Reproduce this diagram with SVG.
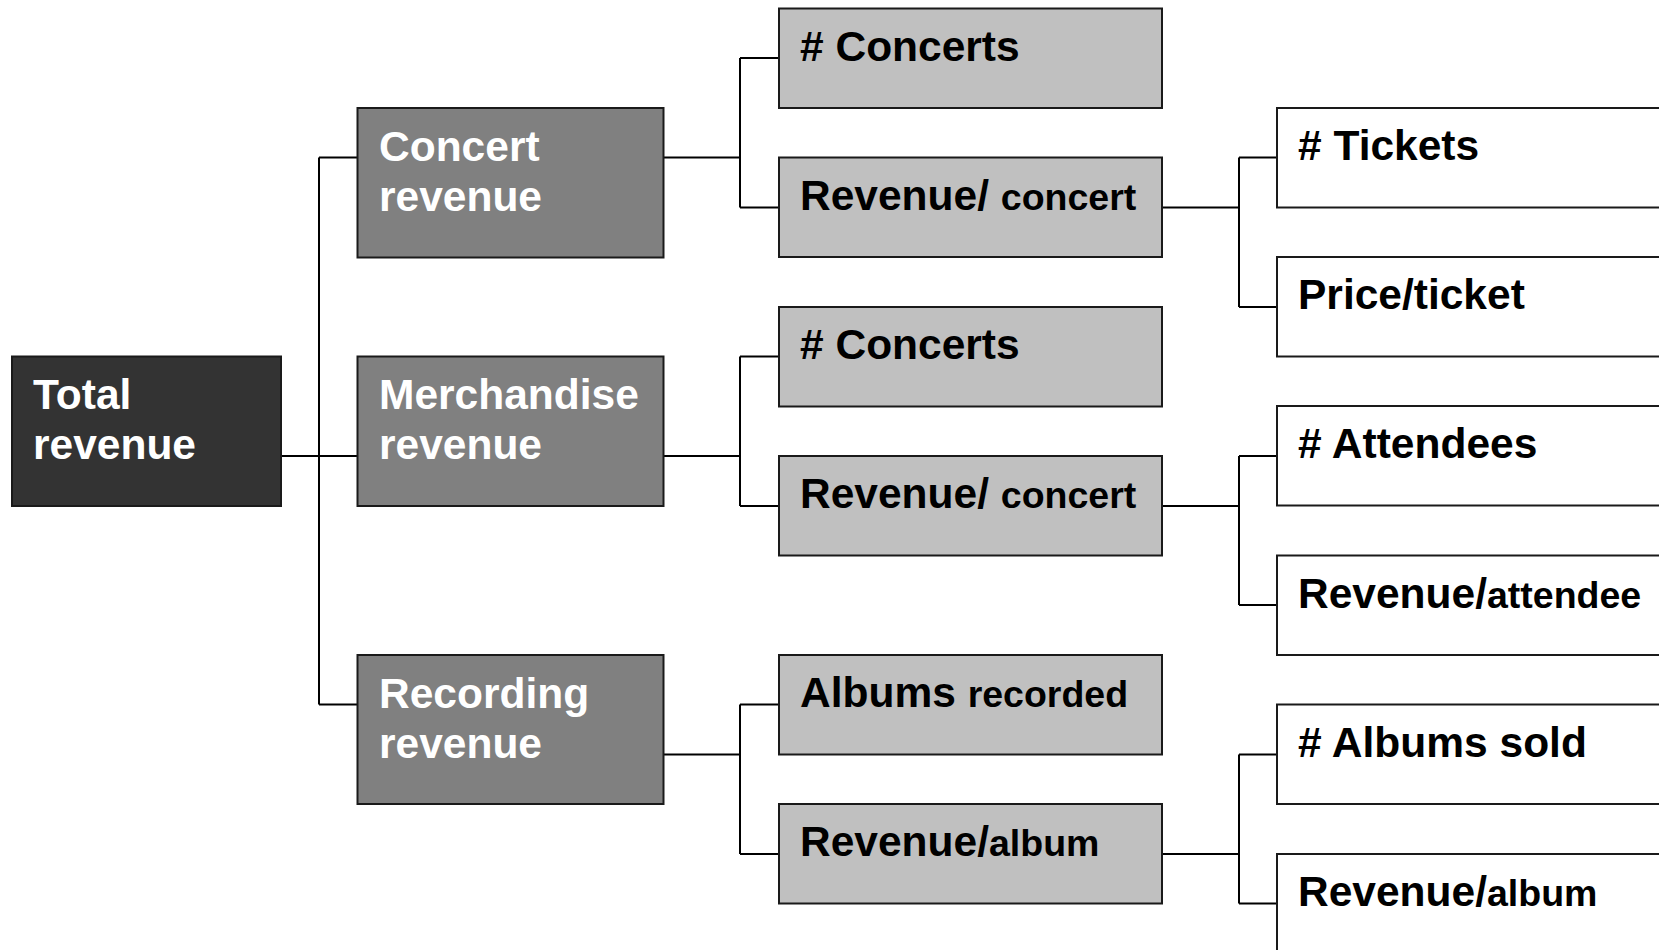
<svg xmlns="http://www.w3.org/2000/svg" width="1659" height="950" viewBox="0 0 1659 950">
<style>
  .box { stroke: #1a1a1a; stroke-width: 2; }
  .b0 { fill: #333333; }
  .b1 { fill: #808080; }
  .b2 { fill: #c0c0c0; }
  .b3 { fill: #ffffff; }
  text { font-family: "Liberation Sans", Arial, sans-serif; font-weight: bold; font-size: 42.5px; }
  .w { fill: #ffffff; }
  .k { fill: #000000; }
  .s { font-size: 37.5px; }
  .conn path { fill: none; stroke: #000000; stroke-width: 2; }
</style>
<rect width="1659" height="950" fill="#ffffff"/>
<g class="conn" id="connectors">
  <path d="M281 456 H319 M319 157.5 V704.5 M319 157.5 H357.5 M319 456 H357.5 M319 704.5 H357.5"/>
  <path d="M663.5 157.5 H740 M740 58 V207.5 M740 58 H779 M740 207.5 H779"/>
  <path d="M663.5 456 H740 M740 356.5 V506 M740 356.5 H779 M740 506 H779"/>
  <path d="M663.5 754.5 H740 M740 704.5 V854 M740 704.5 H779 M740 854 H779"/>
  <path d="M1162 207.5 H1239 M1239 157.5 V307 M1239 157.5 H1277 M1239 307 H1277"/>
  <path d="M1162 506 H1239 M1239 456 V605 M1239 456 H1277 M1239 605 H1277"/>
  <path d="M1162 854 H1239 M1239 754.5 V903.5 M1239 754.5 H1277 M1239 903.5 H1277"/>
</g>
<g id="total">
  <rect class="box b0" x="12" y="356.5" width="269" height="149.5"/>
  <text class="w" x="33" y="409">Total</text>
  <text class="w" x="33" y="459">revenue</text>
</g>
<g id="concert-revenue">
  <rect class="box b1" x="357.5" y="108" width="306" height="149.5"/>
  <text class="w" x="379" y="160.5">Concert</text>
  <text class="w" x="379" y="210.5">revenue</text>
</g>
<g id="merchandise-revenue">
  <rect class="box b1" x="357.5" y="356.5" width="306" height="149.5"/>
  <text class="w" x="379" y="409">Merchandise</text>
  <text class="w" x="379" y="459">revenue</text>
</g>
<g id="recording-revenue">
  <rect class="box b1" x="357.5" y="655" width="306" height="149"/>
  <text class="w" x="379" y="707.5">Recording</text>
  <text class="w" x="379" y="757.5">revenue</text>
</g>
<g id="concerts-1">
  <rect class="box b2" x="779" y="8.5" width="383" height="99.5"/>
  <text class="k" x="800" y="60.5"># Concerts</text>
</g>
<g id="revenue-concert-1">
  <rect class="box b2" x="779" y="157.5" width="383" height="99.5"/>
  <text class="k" x="800" y="209.5">Revenue/ <tspan class="s">concert</tspan></text>
</g>
<g id="concerts-2">
  <rect class="box b2" x="779" y="307" width="383" height="99.5"/>
  <text class="k" x="800" y="359"># Concerts</text>
</g>
<g id="revenue-concert-2">
  <rect class="box b2" x="779" y="456" width="383" height="99.5"/>
  <text class="k" x="800" y="508">Revenue/ <tspan class="s">concert</tspan></text>
</g>
<g id="albums-recorded">
  <rect class="box b2" x="779" y="655" width="383" height="99.5"/>
  <text class="k" x="800" y="707">Albums <tspan class="s">recorded</tspan></text>
</g>
<g id="revenue-album-1">
  <rect class="box b2" x="779" y="804" width="383" height="99.5"/>
  <text class="k" x="800" y="856">Revenue/<tspan class="s">album</tspan></text>
</g>
<g id="tickets">
  <rect class="box b3" x="1277" y="108" width="450" height="99.5"/>
  <text class="k" x="1298" y="160"># Tickets</text>
</g>
<g id="price-ticket">
  <rect class="box b3" x="1277" y="257" width="450" height="99.5"/>
  <text class="k" x="1298" y="309">Price/ticket</text>
</g>
<g id="attendees">
  <rect class="box b3" x="1277" y="406" width="450" height="99.5"/>
  <text class="k" x="1298" y="458"># Attendees</text>
</g>
<g id="revenue-attendee">
  <rect class="box b3" x="1277" y="555.5" width="450" height="99.5"/>
  <text class="k" x="1298" y="607.5">Revenue/<tspan class="s">attendee</tspan></text>
</g>
<g id="albums-sold">
  <rect class="box b3" x="1277" y="704.5" width="450" height="99.5"/>
  <text class="k" x="1298" y="756.5"># Albums sold</text>
</g>
<g id="revenue-album-2">
  <rect class="box b3" x="1277" y="854" width="450" height="99.5"/>
  <text class="k" x="1298" y="906">Revenue/<tspan class="s">album</tspan></text>
</g>
</svg>
